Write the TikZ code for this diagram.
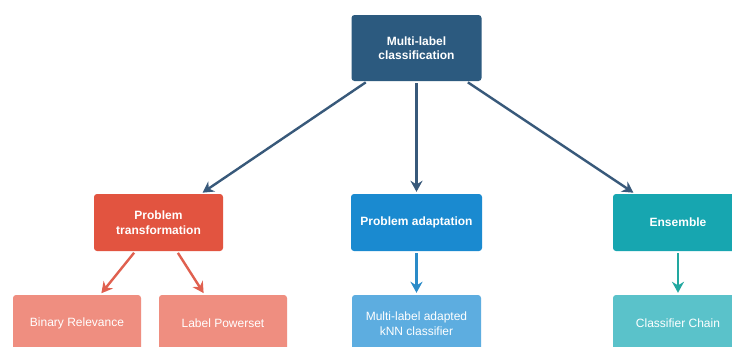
\documentclass[tikz,border=0pt]{standalone}
\usepackage{fontspec}
\setmainfont{Liberation Sans}
\usetikzlibrary{arrows.meta}
\definecolor{cTop}{HTML}{2C5A7F}
\definecolor{cPT}{HTML}{E25440}
\definecolor{cPA}{HTML}{1A8AD0}
\definecolor{cEN}{HTML}{17A6B0}
\definecolor{cBR}{HTML}{EF8E80}
\definecolor{cML}{HTML}{5DADE0}
\definecolor{cCC}{HTML}{5AC2CA}
\definecolor{aTop}{HTML}{38597A}
\definecolor{aPT}{HTML}{E0604F}
\definecolor{aPA}{HTML}{2A8BC8}
\definecolor{aEN}{HTML}{22A8A0}
\tikzset{
  box/.style={rounded corners=3pt, text=white, align=center, inner sep=0pt,
    minimum height=57pt, font=\fontsize{12}{14.5}\selectfont},
  mainbox/.style={box, font=\fontsize{12}{14.5}\selectfont\bfseries},
  conn/.style={line width=2.4pt, -{Stealth[length=11pt,width=12pt]}, shorten >=2pt, shorten <=2pt}
}
\begin{document}
\begin{tikzpicture}[x=1pt,y=-1pt]
\useasboundingbox[fill=white] (0,0) rectangle (732,346);
\node[mainbox, fill=cTop, minimum width=130pt, minimum height=66pt] (top) at (416.5,48) {Multi-label\\classification};
\node[mainbox, fill=cPT, minimum width=129pt] (pt) at (158.5,222.5) {Problem\\transformation};
\node[mainbox, fill=cPA, minimum width=131pt] (pa) at (416.5,222.5) {Problem adaptation};
\node[mainbox, fill=cEN, minimum width=130pt] (en) at (678,222.5) {Ensemble};
\node[box, fill=cBR, minimum width=128pt] (br) at (77,323.5) {Binary Relevance};
\node[box, fill=cBR, minimum width=128pt] (lp) at (223,323.5) {Label Powerset};
\node[box, fill=cML, minimum width=129pt] (ml) at (416.5,323.5) {Multi-label adapted\\kNN classifier};
\node[box, fill=cCC, minimum width=130pt] (cc) at (678,323.5) {Classifier Chain};
\draw[conn, aTop] (top) -- (pt);
\draw[conn, aTop] (top) -- (pa);
\draw[conn, aTop] (top) -- (en);
\draw[conn, aPT] (pt) -- (br);
\draw[conn, aPT] (pt) -- (lp);
\draw[conn, aPA] (pa) -- (ml);
\draw[conn, aEN] (en) -- (cc);
\end{tikzpicture}
\end{document}
